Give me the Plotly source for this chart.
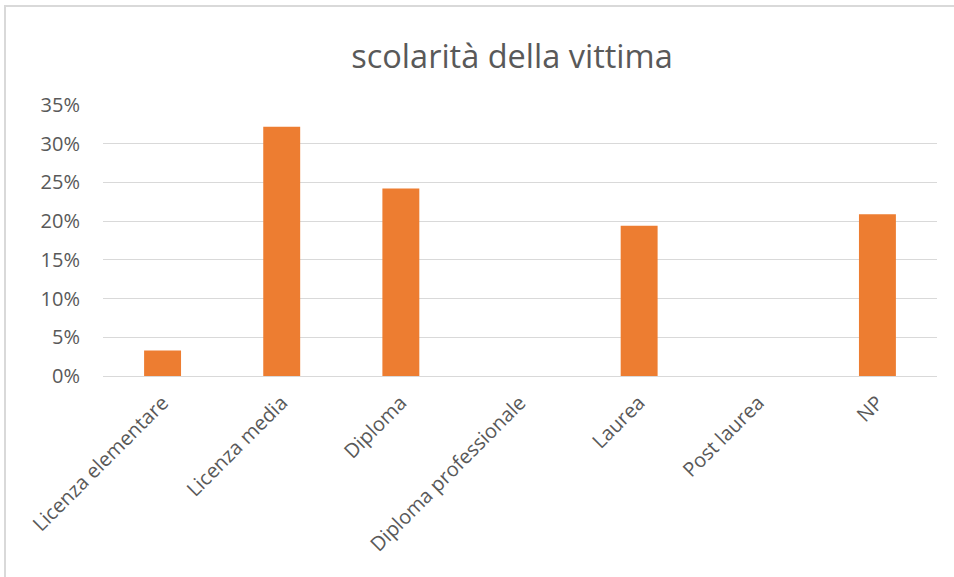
import plotly.graph_objects as go

categories = ["Licenza elementare", "Licenza media", "Diploma", "Diploma professionale",
              "Laurea", "Post laurea", "NP"]
values = [0.033, 0.322, 0.242, 0.0, 0.194, 0.0, 0.209]
tick_vals = [0, 0.05, 0.10, 0.15, 0.20, 0.25, 0.30, 0.35]
tick_text = ["0%", "5%", "10%", "15%", "20%", "25%", "30%", "35%"]

L, R, T, B = 103, 17, 105, 201
W, H = 954, 577
pw, ph = W - L - R, H - T - B

fig = go.Figure(go.Bar(x=categories, y=values, marker_color="#ED7D31",
                       marker_line_width=0))

fig.update_layout(
    width=W, height=H,
    margin=dict(l=L, r=R, t=T, b=B),
    paper_bgcolor="white", plot_bgcolor="white",
    bargap=0.69,
    showlegend=False,
    font=dict(family="Open Sans, Liberation Sans, sans-serif", color="#595959"),
    title=dict(text="scolarità della vittima", x=512 / W, xanchor="center",
               y=1 - 57 / H, yanchor="middle",
               font=dict(size=32.5, color="#595959")),
)
fig.update_yaxes(range=[0, 0.35], tickvals=tick_vals, ticktext=tick_text,
                 showgrid=True, gridcolor="#D9D9D9", gridwidth=1.3,
                 zeroline=False, showline=False, ticks="",
                 tickfont=dict(size=20, color="#595959"),
                 ticklabelstandoff=22)
fig.update_xaxes(tickangle=-45, showline=True, linecolor="#D9D9D9", linewidth=1.3,
                 ticks="", tickfont=dict(size=20, color="#595959"),
                 ticklabelstandoff=6)

# outer chart border
x0 = (5 - L) / pw
x1 = (W + 20 - L) / pw
y1 = 1 + (T - 6) / ph
y0 = 1 - (H + 20 - T) / ph
fig.add_shape(type="rect", xref="paper", yref="paper", x0=x0, x1=x1, y0=y0, y1=y1,
              line=dict(color="#D9D9D9", width=2), layer="below")

fig.write_html("out.html", config={"displayModeBar": False},
               post_script="document.body.style.margin='0';")
